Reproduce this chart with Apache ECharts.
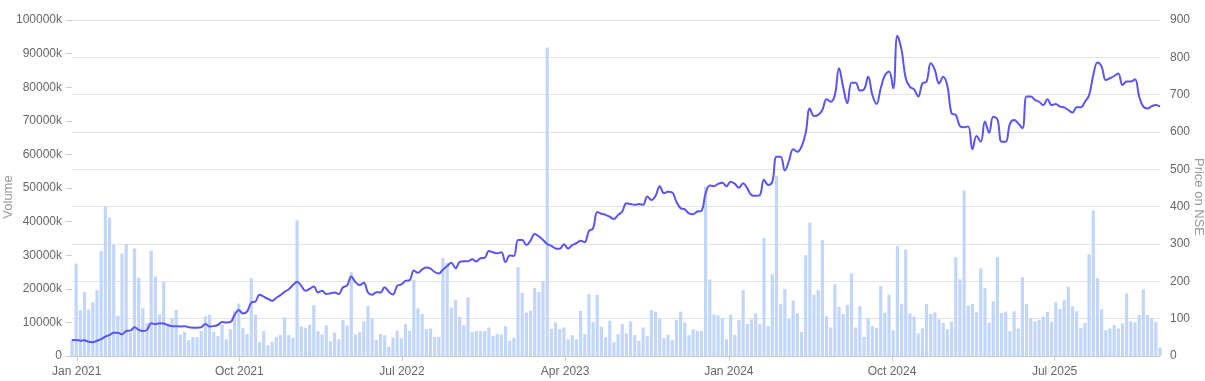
<!DOCTYPE html>
<html>
<head>
<meta charset="utf-8">
<style>
html,body{margin:0;padding:0;background:#fff;}
#chart{width:1205px;height:381px;}
</style>
<script src="https://cdn.jsdelivr.net/npm/echarts@6/dist/echarts.min.js"></script>
</head>
<body>
<div id="chart"></div>
<script>
// Weekly dates start (first point) and step
const startDate = '2020-12-24';
const weekCount = 262;

// Weekly volume, in thousands ("k")
const volumes = [
5000,27500,13700,19000,13800,16000,19600,31200,44400,41200,
33100,12000,30500,33200,7000,32000,23300,14200,9800,31400,
23700,12400,22100,9600,11300,13700,6400,7200,4700,5600,
5600,7400,11800,12300,7200,5900,9300,5000,8000,13300,
15600,8400,6600,23200,12300,4200,7400,3200,4200,5700,
6200,11500,6200,5400,40400,8800,8400,9300,15100,7400,
6400,9100,4400,7000,5000,10700,9100,24900,6400,7100,
10300,14900,11200,4800,6500,6200,2800,5500,7600,5300,
9600,7500,22600,14200,12500,8000,8200,5700,5700,29200,
27700,14400,16700,11700,9200,17500,7100,7400,7400,7400,
8500,6000,6600,6400,8900,4600,5400,26500,18800,12900,
13500,20300,19000,22300,91800,8100,10000,8000,8500,5000,
6200,5000,13400,6500,18400,10100,18200,8700,5600,10500,
4100,6500,9500,6700,10300,6200,4500,8500,6000,13700,
13200,11100,5300,6300,4800,10700,13200,10000,6200,7900,
7500,7400,50400,22800,12400,12100,11200,5000,12300,6300,
10700,19600,9500,10900,12700,9500,35200,8900,24300,53600,
15400,19900,11000,16500,12700,7200,30000,39700,18200,19600,
34500,11900,8500,21300,14600,12500,15200,24600,8500,14900,
5700,11200,8900,8400,20800,12900,18300,7700,32700,15500,
31700,12700,11700,6700,8200,15500,12500,13000,10900,9900,
8000,10200,29400,22800,49300,15000,15500,13000,26100,20200,
9900,16300,29400,12800,13200,7400,13300,8200,23400,15500,
11300,10300,10700,11700,13100,10200,16000,14000,16600,20600,
14800,13300,8400,9900,30300,43300,23200,13900,7700,8200,
9200,8200,9700,18600,10300,10000,12200,19800,12200,11300,
10100,2500
];

// Weekly price on NSE
const prices = [
43,43,41,42,38,37,41,45,52,56,
62,62,58,67,68,77,70,67,70,88,
85,88,87,83,80,80,79,80,77,76,
76,77,86,79,80,83,91,90,91,110,
123,114,119,143,146,164,159,153,148,156,
163,172,179,190,199,188,175,180,186,170,
175,166,168,170,166,184,189,213,198,190,
196,170,164,171,170,184,172,165,188,192,
201,203,229,223,232,237,234,225,221,232,
241,250,235,252,254,254,259,253,262,263,
281,278,275,278,251,269,268,311,311,297,
309,327,320,311,300,295,288,287,299,288,
297,302,309,305,335,342,386,381,378,373,
367,378,387,409,407,405,407,405,427,418,
429,455,436,440,438,413,396,393,382,380,
387,389,436,457,455,461,464,455,467,461,
451,463,449,431,429,431,472,458,467,534,
534,497,523,554,547,561,597,663,643,646,
659,688,681,699,771,720,677,732,732,711,
714,748,699,675,717,752,762,717,858,820,
744,721,714,695,730,735,784,766,730,748,
723,650,646,616,613,615,554,589,574,628,
598,641,634,574,574,622,632,623,610,695,
695,686,681,672,688,672,675,668,666,659,
652,666,666,681,699,753,786,775,739,744,
750,757,726,735,735,741,695,668,663,669,
672,668
];

// X axis tick labels and their dates
const tickLabels = ['Jan 2021','Oct 2021','Jul 2022','Apr 2023','Jan 2024','Oct 2024','Jul 2025'];
const tickDates = ['2021-01-01','2021-10-01','2022-07-01','2023-04-01','2024-01-01','2024-10-01','2025-07-01'];

function toTs(s){ const p = s.split('-').map(Number); return Date.UTC(p[0], p[1]-1, p[2]); }
const DAY = 86400000;
const t0 = toTs(startDate);
const dates = [];
for (let i = 0; i < weekCount; i++) dates.push(t0 + i * 7 * DAY);
const tickTs = tickDates.map(toTs);

const volData = dates.map((d, i) => [d, volumes[i]]);
const priceData = dates.map((d, i) => [d, prices[i]]);

const FONT = "'Liberation Sans', Arial, sans-serif";
const chart = echarts.init(document.getElementById('chart'), null, {renderer: 'canvas'});
chart.setOption({
  animation: false,
  backgroundColor: '#ffffff',
  textStyle: {fontFamily: FONT},
  grid: {left: 72, right: 45, top: 20, bottom: 25, containLabel: false, outerBoundsMode: 'none'},
  xAxis: {
    type: 'value',
    min: dates[0],
    max: dates[dates.length - 1],
    scale: true,
    axisLine: {show: true, onZero: false, lineStyle: {color: '#cccccc'}},
    axisTick: {show: true, length: 5, lineStyle: {color: '#cccccc'}, customValues: tickTs},
    axisLabel: {
      customValues: tickTs,
      showMinLabel: true, showMaxLabel: true,
      color: '#666', fontSize: 12, fontFamily: FONT, margin: 10,
      formatter: function (v) {
        const idx = tickTs.indexOf(v);
        return idx >= 0 ? tickLabels[idx] : '';
      }
    },
    splitLine: {show: false}
  },
  yAxis: [
    {
      type: 'value', min: 0, max: 100000, interval: 10000,
      position: 'left',
      name: 'Volume', nameLocation: 'middle', nameGap: 57, nameRotate: 90,
      nameMoveOverlap: false,
      nameTextStyle: {color: '#999', fontSize: 13, fontFamily: FONT, padding: [0, 18, 0, 0]},
      axisLine: {show: false},
      axisTick: {show: true, length: 6, lineStyle: {color: '#cccccc'}},
      axisLabel: {color: '#666', fontSize: 12, fontFamily: FONT, margin: 10,
        formatter: v => v === 0 ? '0' : v + 'k'},
      splitLine: {show: false}
    },
    {
      type: 'value', min: 0, max: 900, interval: 100,
      position: 'right',
      name: 'Price on NSE', nameLocation: 'middle', nameGap: 32, nameRotate: -90,
      nameMoveOverlap: false,
      nameTextStyle: {color: '#999', fontSize: 13, fontFamily: FONT, padding: [0, 0, 0, 18]},
      axisLine: {show: false},
      axisTick: {show: false},
      axisLabel: {color: '#666', fontSize: 12, fontFamily: FONT, margin: 10},
      splitLine: {show: true, lineStyle: {color: '#e3e3e3', width: 1}}
    }
  ],
  series: [
    {
      type: 'bar', name: 'Volume', yAxisIndex: 0,
      data: volData, barWidth: 3.2,
      itemStyle: {color: '#c2d6fc'},
      clip: true
    },
    {
      type: 'line', name: 'Price', yAxisIndex: 1,
      data: priceData, smooth: 0.4, showSymbol: false, symbol: 'none',
      lineStyle: {color: '#5a55f2', width: 2},
      z: 5
    }
  ]
});
</script>
</body>
</html>
